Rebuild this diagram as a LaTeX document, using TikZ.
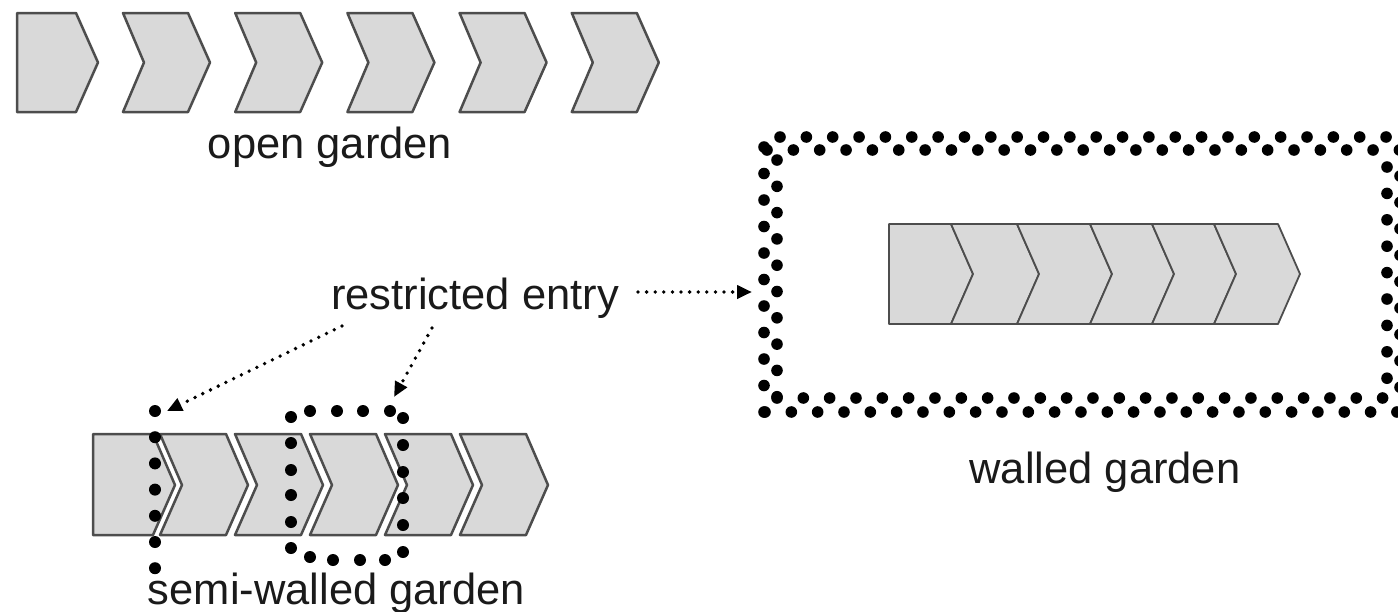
\documentclass[tikz,border=0pt]{standalone}
\usepackage{fontspec}
\setmainfont{Liberation Sans}
\usetikzlibrary{arrows.meta}
\definecolor{segfill}{HTML}{D9D9D9}
\definecolor{segline}{HTML}{4D4D4D}
\definecolor{ink}{HTML}{1A1A1A}
\begin{document}
\begin{tikzpicture}[x=1pt,y=-1pt,
  seg/.style={fill=segfill,draw=segline,line width=2.5pt,line join=round},
  segthin/.style={fill=segfill,draw=segline,line width=1.8pt,line join=round},
  lbl/.style={anchor=base,inner sep=0pt,text=ink,font=\fontsize{43.5pt}{50pt}\selectfont},
  ptr/.style={draw=black,line width=3.8pt,line cap=round,dash pattern=on 0pt off 8.6pt,
    -{Triangle[length=15pt,width=13pt]}},
  wall/.style={fill=black}]
\useasboundingbox (0,0) rectangle (1398,611);
\clip (0,0) rectangle (1398,611);

% ---- open garden: separate segments ----
\path[seg] (17,13) -- (76,13) -- (98,62.5) -- (76,112) -- (17,112) -- cycle;
\foreach \k in {0,...,4}{
  \pgfmathsetmacro{\X}{123+112.2*\k}
  \path[seg] (\X,13) -- (\X+65,13) -- (\X+87,62.5) -- (\X+65,112) -- (\X,112) -- (\X+21,62.5) -- cycle;
}
\node[lbl] (open) at (330,158) {open garden};

% ---- walled garden: joined segments ----
\path[segthin] (889,224) -- (951,224) -- (973,274) -- (951,324) -- (889,324) -- cycle;
\foreach \a/\b in {951/1017,1017/1090,1090/1152,1152/1214,1214/1278}{
  \path[segthin] (\a,224) -- (\b,224) -- (\b+22,274) -- (\b,324) -- (\a,324) -- (\a+22,274) -- cycle;
}
% double staggered row of dots forming the wall
\foreach \k in {0,...,23} \fill[wall] (780+26.35*\k,137) circle[radius=5.8pt];
\foreach \k in {0,...,24} \fill[wall] (767+26.35*\k,150) circle[radius=5.8pt];
\foreach \k in {0,...,24} \fill[wall] (765+26.33*\k,412) circle[radius=5.8pt];
\foreach \k in {0,...,23} \fill[wall] (777+26.33*\k,398) circle[radius=5.8pt];
\foreach \k in {0,...,10} \fill[wall] (764,147+26.5*\k) circle[radius=5.8pt];
\foreach \k in {0,...,9} \fill[wall] (777,160+26.3*\k) circle[radius=5.8pt];
\foreach \k in {0,...,8} \fill[wall] (1387,167+26.4*\k) circle[radius=5.8pt];
\foreach \k in {0,...,8} \fill[wall] (1400,176+26.4*\k) circle[radius=5.8pt];
\node[lbl] (walled) at (1105,483) {walled garden};

% ---- semi-walled garden ----
\path[seg] (93,434) -- (153,434) -- (175,485) -- (153,535) -- (93,535) -- cycle;
\foreach \k in {0,...,4}{
  \pgfmathsetmacro{\X}{160+75*\k}
  \path[seg] (\X,434) -- (\X+66,434) -- (\X+88,485) -- (\X+66,535) -- (\X,535) -- (\X+22,485) -- cycle;
}
% single dotted fence
\foreach \k in {0,...,6} \fill[wall] (155,411+26.2*\k) circle[radius=6pt];
% dotted enclosure around one segment
\foreach \p in {(310,411),(337,411),(363,411),(390,411),
                (403,418),(403,445),(403,472),(403,498),(403,525),(403,552),
                (385,560),(360,560),(333,560),(310,557),
                (291,548),(291,522),(291,495),(291,470),(291,443),(291,417)}
  \fill[wall] \p circle[radius=6pt];
\node[lbl] (semi) at (336.5,604) {semi-walled garden};

% ---- restricted entry and its pointers ----
\node[lbl] (entry) at (475,309) {restricted entry};
\coordinate (toWallFrom) at (638,292);
\coordinate (toWall) at (752,292);
\coordinate (toFenceFrom) at (342,326);
\coordinate (toFence) at (167,411);
\coordinate (toRingFrom) at (432,328);
\coordinate (toRing) at (394,397);
\draw[ptr] (toWallFrom) -- (toWall);
\draw[ptr] (toFenceFrom) -- (toFence);
\draw[ptr] (toRingFrom) -- (toRing);
\end{tikzpicture}
\end{document}
